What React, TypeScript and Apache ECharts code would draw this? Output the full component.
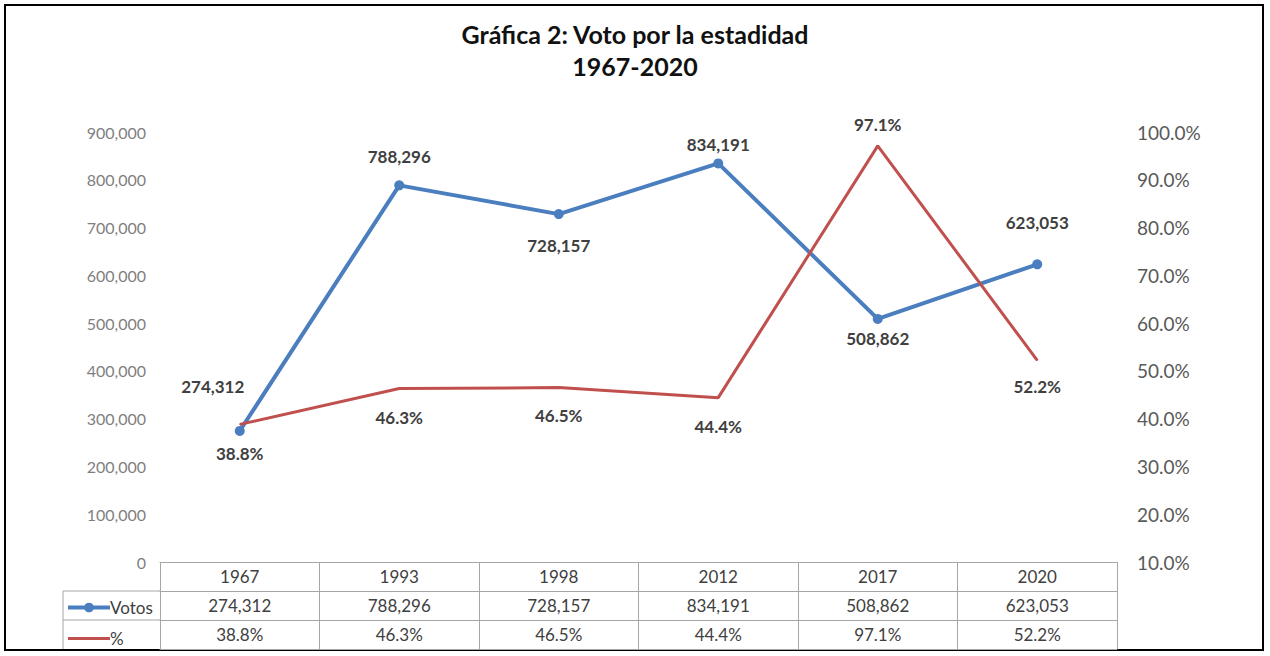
import { useEffect, useRef } from 'react';
import * as echarts from 'echarts';

const years = ['1967', '1993', '1998', '2012', '2017', '2020'];
const votos = [274312, 788296, 728157, 834191, 508862, 623053];
const pct = [38.8, 46.3, 46.5, 44.4, 97.1, 52.2];

// where each data label sits relative to its point
const votosLabelPos = ['top', 'top', 'bottom', 'top', 'bottom', 'top'];
const votosLabelOff = [[-27, -26], [0, -10], [0, 13], [0, 0], [0, 1], [0, -23]];
const pctLabelPos = ['bottom', 'bottom', 'bottom', 'bottom', 'top', 'bottom'];
const pctLabelOff = [[0, 15], [0, 15], [0, 14], [0, 15], [0, -7], [0, 12]];

const BLUE = '#4A7EBF';
const RED = '#C0504D';
const GRID_LINE = '#A6A6A6';
const FONT = 'Lato, "Open Sans", sans-serif';

const fmtVotos = (v: number) => v.toLocaleString('en-US');
const fmtPct = (v: number) => v.toFixed(1) + '%';

export default function App() {
  const ref = useRef<HTMLDivElement>(null);

  useEffect(() => {
    document.body.style.margin = '0';
    if (!ref.current) return;
    const chart = echarts.init(ref.current, undefined, { renderer: 'svg' });

    const labelStyle = { fontSize: 17, fontWeight: 'bold' as const, color: '#404040', fontFamily: FONT };

    const tableRow = (offset: number) => ({
      type: 'category',
      data: years,
      position: 'bottom',
      offset,
      axisLine: { show: true, lineStyle: { color: GRID_LINE, width: 1 } },
      axisTick: { show: false },
      axisLabel: { show: false },
    });

    chart.setOption({
      animation: false,
      textStyle: { fontFamily: FONT },
      title: {
        text: 'Gráfica 2: Voto por la estadidad\n1967-2020',
        left: 'center',
        top: 13,
        textStyle: { fontSize: 25, fontWeight: 'bold', color: '#111', lineHeight: 32, fontFamily: FONT },
      },
      legend: {
        orient: 'vertical',
        left: 66,
        top: 599,
        padding: 0,
        itemWidth: 42,
        itemHeight: 12,
        itemGap: 14,
        textStyle: { fontSize: 17, color: '#404040', lineHeight: 12, padding: [0, 0, 0, -5] },
        data: [
          { name: 'Votos', lineStyle: { width: 4 } },
          { name: '%', itemStyle: { opacity: 0 }, lineStyle: { width: 3 } },
        ],
      },
      grid: { left: 160, right: 153, top: 132, bottom: 94 },
      xAxis: [
        {
          type: 'category',
          data: years,
          position: 'bottom',
          boundaryGap: true,
          axisLine: { show: true, lineStyle: { color: GRID_LINE, width: 1 } },
          axisTick: { show: true, interval: 0, length: 87, lineStyle: { color: GRID_LINE, width: 1 } },
          axisLabel: {
            interval: 0,
            margin: 0,
            formatter: (_v: string, i: number) =>
              `{a|${years[i]}}\n{a|${fmtVotos(votos[i])}}\n{a|${fmtPct(pct[i])}}`,
            rich: { a: { fontSize: 17, color: '#404040', lineHeight: 29, fontFamily: FONT } },
          },
        },
        tableRow(29),
        tableRow(58),
        tableRow(87),
      ],
      yAxis: [
        {
          type: 'value',
          min: 0,
          max: 900000,
          interval: 100000,
          axisLine: { show: false },
          axisTick: { show: false },
          splitLine: { show: false },
          axisLabel: { color: '#7F7F7F', fontSize: 16, margin: 14, formatter: fmtVotos },
        },
        {
          type: 'value',
          min: 10,
          max: 100,
          interval: 10,
          position: 'right',
          axisLine: { show: false },
          axisTick: { show: false },
          splitLine: { show: false },
          axisLabel: { color: '#595959', fontSize: 19, margin: 20, formatter: fmtPct },
        },
      ],
      series: [
        {
          name: 'Votos',
          type: 'line',
          yAxisIndex: 0,
          data: votos.map((v, i) => ({
            value: v,
            label: {
              show: true,
              position: votosLabelPos[i],
              offset: votosLabelOff[i],
              formatter: () => fmtVotos(v),
              ...labelStyle,
            },
          })),
          symbol: 'circle',
          symbolSize: 10,
          lineStyle: { color: BLUE, width: 4 },
          itemStyle: { color: BLUE },
        },
        {
          name: '%',
          type: 'line',
          yAxisIndex: 1,
          data: pct.map((v, i) => ({
            value: v,
            label: {
              show: true,
              position: pctLabelPos[i],
              offset: pctLabelOff[i],
              formatter: () => fmtPct(v),
              ...labelStyle,
            },
          })),
          symbol: 'circle',
          symbolSize: 1,
          lineStyle: { color: RED, width: 3 },
          itemStyle: { color: RED },
        },
      ],
      graphic: [
        {
          type: 'rect',
          shape: { x: 5, y: 5, width: 1258, height: 645 },
          style: { fill: 'none', stroke: '#000', lineWidth: 2 },
          silent: true,
        },
        // legend cell of the data table
        { type: 'line', shape: { x1: 63, y1: 591, x2: 160, y2: 591 }, style: { stroke: GRID_LINE, lineWidth: 1 } },
        { type: 'line', shape: { x1: 63, y1: 620, x2: 160, y2: 620 }, style: { stroke: GRID_LINE, lineWidth: 1 } },
        { type: 'line', shape: { x1: 63, y1: 591, x2: 63, y2: 649 }, style: { stroke: GRID_LINE, lineWidth: 1 } },
      ],
    });

    return () => chart.dispose();
  }, []);

  return <div ref={ref} style={{ width: 1270, height: 656 }} />;
}
